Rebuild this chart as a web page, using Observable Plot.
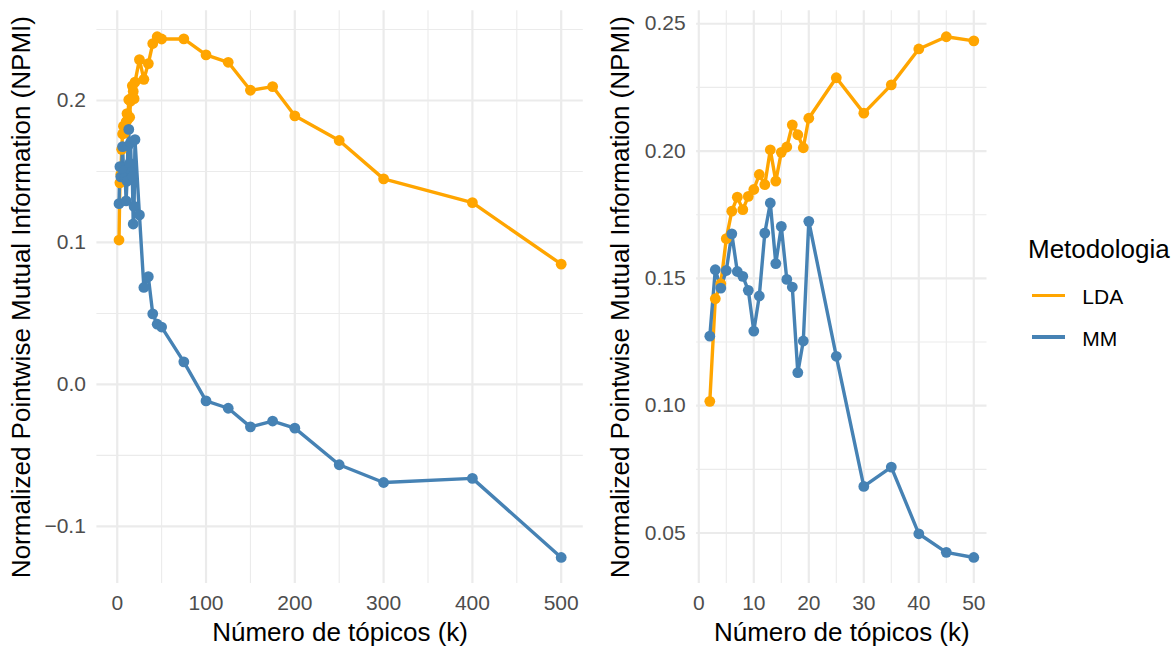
<!DOCTYPE html>
<html>
<head>
<meta charset="utf-8">
<script src="https://cdn.jsdelivr.net/npm/d3@7"></script>
<script src="https://cdn.jsdelivr.net/npm/@observablehq/plot@0.6"></script>
<style>
  html, body { margin: 0; padding: 0; background: #fff; }
  #wrap { position: relative; width: 1176px; height: 646px; overflow: hidden; font-family: "Liberation Sans", Arial, sans-serif; }
  #left, #right { position: absolute; top: 0; }
  #left { left: 0; }
  #right { left: 600px; }
  .lg { position: absolute; white-space: nowrap; color: #000; }
  .lg-title { font-size: 26px; line-height: 26px; }
  .lg-label { font-size: 21px; line-height: 21px; }
  .lg-key { position: absolute; height: 3.6px; }
</style>
</head>
<body>
<div id="wrap">
  <div id="left"></div>
  <div id="right"></div>
  <div id="legend"></div>
</div>
<script>
// ---- data ----
const topics = [2,3,4,5,6,7,8,9,10,11,12,13,14,15,16,17,18,19,20,25,30,35,40,45,50,75,100,125,150,175,200,250,300,400,500];
const ldaNpmi = [0.1017,0.1420,0.1479,0.1656,0.1764,0.1819,0.1770,0.1822,0.1849,0.1908,0.1868,0.2005,0.1882,0.1995,0.2016,0.2103,0.2064,0.2013,0.2129,0.2288,0.2149,0.2260,0.2401,0.2449,0.2433,0.2434,0.2321,0.2269,0.2072,0.2098,0.1892,0.1718,0.1448,0.1280,0.0847];
const mmNpmi = [0.1273,0.1534,0.1462,0.1531,0.1675,0.1527,0.1508,0.1453,0.1293,0.1431,0.1678,0.1796,0.1558,0.1704,0.1496,0.1466,0.1130,0.1254,0.1724,0.1194,0.0683,0.0759,0.0497,0.0424,0.0404,0.0159,-0.0116,-0.0168,-0.0299,-0.0258,-0.0308,-0.0566,-0.0691,-0.0662,-0.1219];
const methods = ["LDA", "MM"];
const methodColors = ["#FFA500", "#4682B4"];
const xTitle = "Número de tópicos (k)";
const yTitle = "Normalized Pointwise Mutual Information (NPMI)";
const legendTitle = "Metodologia";

const leftXTicks = [0,100,200,300,400,500];
const leftXMinor = [50,150,250,350,450];
const leftYTicks = [-0.1,0,0.1,0.2];
const leftYMinor = [-0.05,0.05,0.15,0.25];
const rightXTicks = [0,10,20,30,40,50];
const rightXMinor = [5,15,25,35,45];
const rightYTicks = [0.05,0.10,0.15,0.20,0.25];
const rightYMinor = [0.075,0.125,0.175,0.225];

const rows = [
  ...topics.map((k, i) => ({k, npmi: ldaNpmi[i], metodo: methods[0]})),
  ...topics.map((k, i) => ({k, npmi: mmNpmi[i], metodo: methods[1]}))
];

const FONT = "Liberation Sans, Arial, sans-serif";
function expand(ext) { const d = (ext[1] - ext[0]) * 0.05; return [ext[0] - d, ext[1] + d]; }

function panel(data, opts) {
  const xd = expand(d3.extent(data, d => d.k));
  const yd = expand(d3.extent(data, d => d.npmi));
  return Plot.plot({
    width: opts.width,
    height: 646,
    marginLeft: opts.ml,
    marginRight: opts.mr,
    marginTop: 10.2,
    marginBottom: 63,
    style: {fontFamily: FONT, fontSize: "21px", background: "#fff", overflow: "visible"},
    x: {domain: xd, nice: false},
    y: {domain: yd, nice: false},
    color: {domain: methods, range: methodColors},
    marks: [
      Plot.gridX({ticks: opts.xMinor, stroke: "#ebebeb", strokeOpacity: 1, strokeWidth: 1.1}),
      Plot.gridY({ticks: opts.yMinor, stroke: "#ebebeb", strokeOpacity: 1, strokeWidth: 1.1}),
      Plot.gridX({ticks: opts.xTicks, stroke: "#ebebeb", strokeOpacity: 1, strokeWidth: 2.2}),
      Plot.gridY({ticks: opts.yTicks, stroke: "#ebebeb", strokeOpacity: 1, strokeWidth: 2.2}),
      Plot.axisX({ticks: opts.xTicks, tickSize: 0, tickPadding: 12, fontSize: 21, color: "#4d4d4d", label: null, tickFormat: d3.format("d")}),
      Plot.axisY({ticks: opts.yTicks, tickSize: 0, tickPadding: 11, fontSize: 21, color: "#4d4d4d", label: null, tickFormat: d3.format(opts.yFmt)}),
      Plot.line(data, {x: "k", y: "npmi", stroke: "metodo", z: "metodo", strokeWidth: 3.4, strokeLinejoin: "round", strokeLinecap: "butt"}),
      Plot.dot(data, {x: "k", y: "npmi", fill: "metodo", r: 5.4, stroke: "none"}),
      Plot.text([xTitle], {text: d => d, frameAnchor: "bottom", lineAnchor: "top", dy: 38.6, fontSize: 26, fill: "#000"}),
      Plot.text([yTitle], {text: d => d, frameAnchor: "left", rotate: -90, dx: -75.5, fontSize: 26, fill: "#000", textAnchor: "middle"})
    ]
  });
}

document.getElementById("left").appendChild(panel(rows, {
  width: 600, ml: 96.4, mr: 17.2,
  xTicks: leftXTicks, xMinor: leftXMinor, yTicks: leftYTicks, yMinor: leftYMinor, yFmt: ".1f"
}));

document.getElementById("right").appendChild(panel(rows.filter(d => d.k <= 50), {
  width: 400, ml: 96.1, mr: 13.5,
  xTicks: rightXTicks, xMinor: rightXMinor, yTicks: rightYTicks, yMinor: rightYMinor, yFmt: ".2f"
}));

// ---- legend ----
const lg = document.getElementById("legend");
const t = document.createElement("div");
t.className = "lg lg-title"; t.textContent = legendTitle;
t.style.left = "1028px"; t.style.top = "236.3px";
lg.appendChild(t);
const keyY = [295.4, 337.2];
methods.forEach((m, i) => {
  const key = document.createElement("div");
  key.className = "lg-key";
  key.style.left = "1031.7px"; key.style.width = "33.3px";
  key.style.top = (keyY[i] - 1.8) + "px";
  key.style.background = methodColors[i];
  lg.appendChild(key);
  const lab = document.createElement("div");
  lab.className = "lg lg-label"; lab.textContent = m;
  lab.style.left = "1082.3px"; lab.style.top = (keyY[i] - 9.7) + "px";
  lg.appendChild(lab);
});
</script>
</body>
</html>
